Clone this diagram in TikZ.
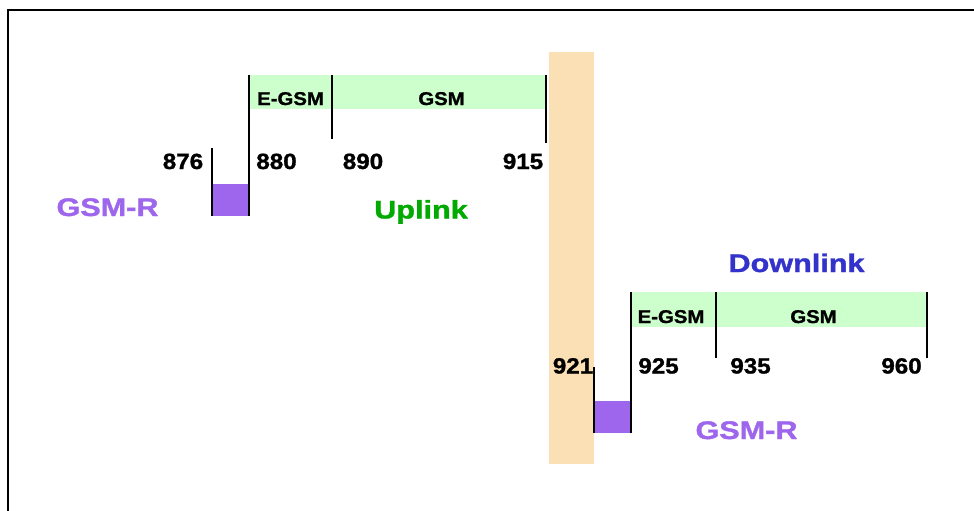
\documentclass[tikz,border=0pt]{standalone}
\usepackage{fontspec}
\setmainfont{Liberation Sans}[BoldFeatures={FakeBold=1.2}]
\definecolor{bandgreen}{RGB}{204,255,204}
\definecolor{gsmrpurple}{RGB}{157,102,236}
\definecolor{upgreen}{RGB}{0,170,0}
\definecolor{downblue}{RGB}{51,51,204}
\definecolor{guard}{RGB}{251,224,182}
\newcommand{\wide}[1]{\scalebox{1.1}[1]{#1}}
\newcommand{\wider}[1]{\scalebox{1.2}[1]{#1}}
\begin{document}
\begin{tikzpicture}[x=1pt,y=-1pt,
  tick/.style={line width=1.4pt,black},
  band/.style={fill=bandgreen,draw=none},
  gbox/.style={fill=gsmrpurple,draw=none},
  lbl/.style={font=\bfseries\fontsize{18.5}{18.5}\selectfont,inner sep=0pt,anchor=base},
  num/.style={font=\bfseries\fontsize{22}{22}\selectfont,inner sep=0pt,anchor=base},
  big/.style={font=\bfseries\fontsize{25.5}{25.5}\selectfont,inner sep=0pt,anchor=base}]
\useasboundingbox (0,0) rectangle (974,511);
% frame (cut off at right and bottom)
\draw[line width=2pt] (8,520) -- (8,10) -- (985,10);
% guard band
\fill[guard] (549,52) rectangle (594,464);
% ---------- Uplink ----------
\fill[band] (249,75) rectangle (546,109);
\fill[gbox] (212,184) rectangle (249,216);
\draw[tick] (249,75) -- (249,216);
\draw[tick] (332,75) -- (332,139);
\draw[tick] (546,75) -- (546,143);
\draw[tick] (212,148) -- (212,216);
\node[lbl] (ueg) at (290.5,105) {\wide{E-GSM}};
\node[lbl] (ug) at (441.5,105) {\wide{GSM}};
\node[num] (n876) at (183,169) {\wide{876}};
\node[num] (n880) at (276.5,169) {\wide{880}};
\node[num] (n890) at (363,169) {\wide{890}};
\node[num] (n915) at (523,169) {\wide{915}};
\node[big,text=gsmrpurple] (ugr) at (107.5,216) {\wider{GSM-R}};
\node[big,text=upgreen] (up) at (421,218.5) {\wider{Uplink}};
% ---------- Downlink ----------
\fill[band] (631,292) rectangle (927,327);
\fill[gbox] (594,401) rectangle (631,433);
\draw[tick] (631,292) -- (631,433);
\draw[tick] (716,292) -- (716,358);
\draw[tick] (927,292) -- (927,358);
\draw[tick] (594,367) -- (594,433);
\node[lbl] (deg) at (671,323) {\wide{E-GSM}};
\node[lbl] (dg) at (813.5,323) {\wide{GSM}};
\node[num] (n921) at (573,373.5) {\wide{921}};
\node[num] (n925) at (658.5,373.5) {\wide{925}};
\node[num] (n935) at (750.5,373.5) {\wide{935}};
\node[num] (n960) at (901.5,373.5) {\wide{960}};
\node[big,text=gsmrpurple] (dgr) at (746.5,439) {\wider{GSM-R}};
\node[big,text=downblue] (down) at (796.5,272) {\wider{Downlink}};
\end{tikzpicture}
\end{document}
